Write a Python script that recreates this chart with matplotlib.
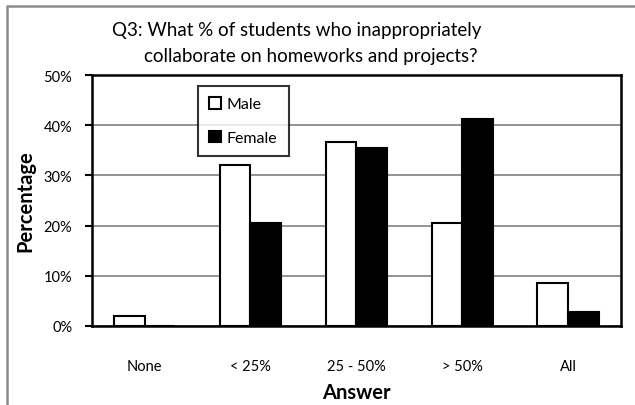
import matplotlib.pyplot as plt
import numpy as np
from matplotlib.patches import Rectangle

answers = ['None', '< 25%', '25 - 50%', '> 50%', 'All']
male = [2.0, 32.1, 36.7, 20.5, 8.6]
female = [0.0, 20.5, 35.5, 41.2, 2.7]
yticks = [0, 10, 20, 30, 40, 50]

plt.rcParams['font.family'] = ['Lato', 'DejaVu Sans']

fig = plt.figure(figsize=(6.35, 4.06), dpi=100)
ax = fig.add_axes([0.1444, 0.1946, 0.978 - 0.1444, 0.8128 - 0.1946])

# gray outer chart frame (right and bottom edges fall off the picture)
fig.patches.append(Rectangle((6.5 / 635, -0.05), 1.0, 1.05 - 6.5 / 406,
                             transform=fig.transFigure, fill=False,
                             edgecolor='#8c8c8c', linewidth=1.8))

x = np.arange(len(answers))
w = 0.29
ax.bar(x - w / 2, male, w, color='white', edgecolor='black', linewidth=1.5,
       label='Male', zorder=3)
ax.bar(x + w / 2, female, w, color='black', edgecolor='black', linewidth=1.5,
       label='Female', zorder=3)

ax.set_xlim(-0.5, len(answers) - 0.5)
ax.set_ylim(0, 50)
ax.set_yticks(yticks)
ax.set_yticklabels([f'{t}%' for t in yticks], fontsize=10.5)
ax.set_xticks(x)
ax.set_xticklabels(answers, fontsize=10.5)
ax.tick_params(axis='x', length=0, pad=24)
ax.tick_params(axis='y', length=5, width=1.5, direction='out', pad=9)
ax.yaxis.grid(True, color='#8a8a8a', linewidth=1.3, zorder=0)
ax.set_axisbelow(True)
for s in ax.spines.values():
    s.set_linewidth(1.8)
    s.set_color('black')

ax.set_ylabel('Percentage', fontsize=14.5, fontweight='bold', labelpad=6)
ax.set_xlabel('Answer', fontsize=14.5, fontweight='bold', labelpad=6)

fig.text(0.468, 0.926, 'Q3: What % of students who inappropriately',
         ha='center', va='center', fontsize=13.5)
fig.text(0.49, 0.862, 'collaborate on homeworks and projects?',
         ha='center', va='center', fontsize=13.5)

leg = ax.legend(loc='upper left', bbox_to_anchor=(0.201, 0.957), fontsize=11.5,
                frameon=True, fancybox=False, edgecolor='black',
                handlelength=0.75, handleheight=0.75, handletextpad=0.35,
                labelspacing=1.2, borderpad=0.7, borderaxespad=0)
leg.get_frame().set_linewidth(1.5)

fig.savefig('out.png', dpi=100)
